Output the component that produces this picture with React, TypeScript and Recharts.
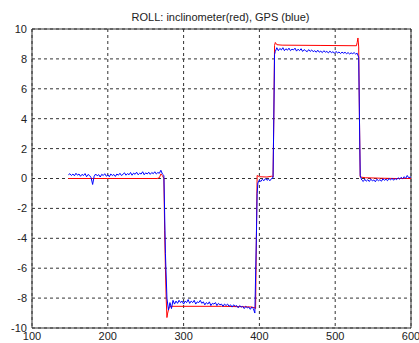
import React from "react";
import {
  LineChart,
  Line,
  XAxis,
  YAxis,
  CartesianGrid,
  ReferenceArea,
} from "recharts";

const xTicks = [100, 200, 300, 400, 500, 600];
const yTicks = [-10, -8, -6, -4, -2, 0, 2, 4, 6, 8, 10];

// inclinometer (red): [time, roll]
const redPoints: [number, number][] = [
  [148, 0], [200, 0], [265, 0], [268, 0.05], [270, 0.3], [272, 0.2], [274, 0.0], [275, -3.5],
  [276, -6], [277, -8], [278, -9.3], [279, -9.0], [281, -8.6], [284, -8.55], [300, -8.55],
  [350, -8.55], [380, -8.58], [390, -8.6], [394, -8.65], [395, -8.7], [396, -4], [397, 0.2],
  [400, 0.12], [410, 0.1], [416, 0.15], [418, 0.1], [419, 4], [420, 8.9], [421, 9.1], [423, 8.95],
  [430, 8.92], [480, 8.9], [528, 8.88], [529, 9.1], [530, 9.4], [531, 8.8], [532, 4], [533, 0.1],
  [540, 0.05], [560, 0.02], [580, 0.0], [600, 0.0],
];

// GPS (blue): level near 0
const blueLevel0: [number, number][] = [
  [148, 0.25], [150, 0.32], [152, 0.2], [154, 0.3], [156, 0.18], [158, 0.35], [160, 0.22],
  [162, 0.3], [164, 0.15], [166, 0.28], [168, 0.2], [170, 0.33], [172, 0.12], [174, 0.27],
  [176, 0.2], [178, 0.05], [180, -0.4], [182, 0.15], [184, 0.3], [186, 0.18], [188, 0.26],
  [190, 0.1], [192, 0.28], [194, 0.2], [196, 0.32], [198, 0.15], [200, 0.25], [202, 0.12],
  [204, 0.3], [206, 0.2], [208, 0.27], [210, 0.14], [212, 0.3], [214, 0.22], [216, 0.35],
  [218, 0.2], [220, 0.28], [222, 0.38], [224, 0.22], [226, 0.33], [228, 0.25], [230, 0.4],
  [232, 0.22], [234, 0.36], [236, 0.28], [238, 0.42], [240, 0.25], [242, 0.35], [244, 0.3],
  [246, 0.45], [248, 0.25], [250, 0.38], [252, 0.3], [254, 0.42], [256, 0.28], [258, 0.4],
  [260, 0.32], [262, 0.45], [264, 0.3], [266, 0.4], [268, 0.35], [270, 0.55], [272, 0.3],
  [274, 0.2], [276, -5], [278, -8.0],
];

// GPS (blue): level near -8.5
const blueLevelNeg: [number, number][] = [
  [280, -8.8], [282, -8.3], [284, -8.7], [286, -8.15], [288, -8.4], [290, -8.2], [292, -8.35],
  [294, -8.15], [296, -8.3], [298, -8.2], [300, -8.4], [302, -8.2], [304, -8.3], [306, -8.1],
  [308, -8.35], [310, -8.2], [312, -8.3], [314, -8.15], [316, -8.4], [318, -8.25], [320, -8.3],
  [322, -8.15], [324, -8.35], [326, -8.25], [328, -8.45], [330, -8.3], [332, -8.4], [334, -8.25],
  [336, -8.5], [338, -8.35], [340, -8.4], [342, -8.3], [344, -8.5], [346, -8.35], [348, -8.45],
  [350, -8.4], [352, -8.55], [354, -8.4], [356, -8.5], [358, -8.4], [360, -8.55], [362, -8.45],
  [364, -8.6], [366, -8.45], [368, -8.55], [370, -8.5], [372, -8.65], [374, -8.5], [376, -8.6],
  [378, -8.55], [380, -8.7], [382, -8.55], [384, -8.65], [386, -8.6], [388, -8.75], [390, -8.6],
  [392, -8.7], [394, -9.0], [396, -4],
];

// GPS (blue): short level near 0
const blueLevelMid: [number, number][] = [
  [397, -1], [398, -0.3], [400, -0.1], [402, -0.2], [404, -0.05], [406, -0.15], [408, 0.0],
  [410, -0.12], [412, -0.05], [414, -0.15], [416, 0.0], [418, 0.05], [419, 4], [420, 8.3],
];

// GPS (blue): level near 8.5
const blueLevelPos: [number, number][] = [
  [421, 8.5], [423, 8.75], [425, 8.55], [427, 8.7], [429, 8.6], [431, 8.75], [433, 8.55],
  [435, 8.68], [437, 8.58], [439, 8.72], [441, 8.55], [443, 8.65], [445, 8.6], [447, 8.72],
  [449, 8.52], [451, 8.65], [453, 8.55], [455, 8.68], [457, 8.5], [459, 8.62], [461, 8.55],
  [463, 8.48], [465, 8.62], [467, 8.5], [469, 8.6], [471, 8.48], [473, 8.55], [475, 8.45],
  [477, 8.58], [479, 8.45], [481, 8.52], [483, 8.42], [485, 8.55], [487, 8.45], [489, 8.5],
  [491, 8.4], [493, 8.52], [495, 8.42], [497, 8.48], [499, 8.38], [501, 8.5], [503, 8.4],
  [505, 8.46], [507, 8.36], [509, 8.45], [511, 8.38], [513, 8.44], [515, 8.35], [517, 8.42],
  [519, 8.33], [521, 8.4], [523, 8.35], [525, 8.42], [527, 8.32], [529, 8.38], [531, 8.1],
  [532, 4],
];

// GPS (blue): final level near 0
const blueLevelEnd: [number, number][] = [
  [533, 0.2], [535, -0.1], [537, -0.2], [539, -0.05], [541, -0.18], [543, -0.08], [545, -0.2],
  [547, -0.05], [549, -0.15], [551, -0.1], [553, -0.22], [555, -0.05], [557, -0.15], [559, -0.08],
  [561, -0.18], [563, -0.02], [565, -0.12], [567, -0.05], [569, -0.15], [571, 0.0], [573, -0.1],
  [575, 0.02], [577, -0.12], [579, 0.0], [581, -0.08], [583, 0.05], [585, -0.05], [587, 0.08],
  [589, -0.02], [591, 0.12], [593, 0.0], [595, 0.2], [597, 0.05], [599, 0.1], [600, 0.05],
];

const redData = redPoints.map(([x, y]) => ({ x, y }));
const blueData = [...blueLevel0, ...blueLevelNeg, ...blueLevelMid, ...blueLevelPos, ...blueLevelEnd].map(
  ([x, y]) => ({ x, y })
);

const font = "Liberation Sans, Arial, sans-serif";
const tickStyle = { fontSize: 11, fill: "#222", fontFamily: font };

export default function App() {
  return (
    <div style={{ position: "absolute", left: 0, top: 0, width: 419, height: 343, background: "#fff" }}>
      <div
        style={{
          position: "absolute",
          left: 0,
          top: 10,
          width: 441,
          textAlign: "center",
          fontSize: 11,
          lineHeight: "14px",
          color: "#222",
          fontFamily: font,
        }}
      >
        ROLL: inclinometer(red), GPS (blue)
      </div>
      <LineChart width={419} height={343} margin={{ top: 29, right: 8, bottom: 0, left: 0 }}>
        <CartesianGrid stroke="#333" strokeDasharray="3 3" strokeWidth={1} />
        <XAxis
          dataKey="x"
          type="number"
          domain={[100, 600]}
          ticks={xTicks}
          allowDataOverflow
          height={15}
          tickSize={0}
          tickMargin={4}
          axisLine={false}
          tick={tickStyle}
          interval={0}
        />
        <YAxis
          type="number"
          domain={[-10, 10]}
          ticks={yTicks}
          allowDataOverflow
          width={32}
          tickSize={0}
          tickMargin={5}
          axisLine={false}
          tick={tickStyle}
          interval={0}
        />
        <ReferenceArea x1={100} x2={600} y1={-10} y2={10} fill="none" stroke="#333" strokeWidth={1} />
        <Line
          data={redData}
          dataKey="y"
          type="linear"
          stroke="#ff0000"
          strokeWidth={1}
          dot={false}
          isAnimationActive={false}
        />
        <Line
          data={blueData}
          dataKey="y"
          type="linear"
          stroke="#0000ff"
          strokeWidth={1}
          dot={false}
          isAnimationActive={false}
        />
      </LineChart>
    </div>
  );
}
